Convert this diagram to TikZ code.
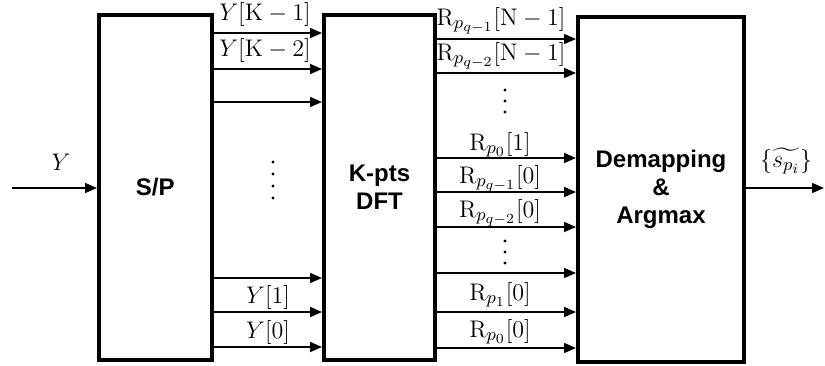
\documentclass[tikz,border=0pt]{standalone}
\usepackage{amsmath,amssymb}
\usepackage{fontspec}
\setsansfont{Liberation Sans}
\usepackage{tikz}
\usetikzlibrary{arrows.meta,calc}
\DeclareMathSizes{12}{12}{9}{7}
\DeclareMathSizes{13}{13}{9.5}{7.5}
\tikzset{
  every picture/.style={line width=0.8pt},
  sblock/.style={draw, line width=2pt, align=center,
                 font=\fontsize{12}{14}\selectfont\sffamily\bfseries},
  sarrow/.style={-{Triangle[length=6pt,width=5pt]}},
  slabel/.style={anchor=base, inner sep=0pt, font=\fontsize{12}{14}\selectfont},
  sdot/.style={circle, fill=black, inner sep=0pt, minimum size=1.7pt},
}
\newcommand{\Rp}[2]{$\mathrm{R}_{p_{#1}}[#2]$}

\begin{document}
\begin{tikzpicture}[x=0.5pt,y=-0.5pt]
\useasboundingbox (0,0) rectangle (825,365);
% blocks
\node[sblock, minimum width=56.25pt, minimum height=172.5pt] (sp) at (155.25,187.5) {S/P};
\node[sblock, minimum width=55.5pt, minimum height=172.5pt] (dft) at (379.5,187.5) {K-pts\\DFT};
\node[sblock, minimum width=83pt, minimum height=172.5pt] (dem) at (661,189) {Demapping\\\&\\Argmax};
% input / output
\coordinate (in) at (12,188);
\coordinate (out) at (824,188);
\draw[sarrow] (in) -- (sp.west |- in);
\node[slabel] (ylab) at (61,170) {$Y$};
\draw[sarrow] (dem.east |- out) -- (out);
\node[slabel, font=\fontsize{13}{15}\selectfont] (slab) at (786,167) {$\{\widetilde{s_{p_i}}\}$};
% S/P -> DFT
\foreach \y in {33,69,102,278,312,347}
  \draw[sarrow] (sp.east |- 0,\y) -- (dft.west |- 0,\y);
\node[slabel] (yk1) at (265,20) {$Y[\mathrm{K}-1]$};
\node[slabel] (yk2) at (265,56) {$Y[\mathrm{K}-2]$};
\node[slabel] (y1) at (268,303) {$Y[1]$};
\node[slabel] (y0) at (268,338) {$Y[0]$};
\foreach \y [count=\i] in {162,174,186,198}
  \node[sdot] (spdot\i) at (273,\y) {};
% DFT -> demapping
\foreach \y in {39,73,158,192,227,273,312,348}
  \draw[sarrow] (dft.east |- 0,\y) -- (dem.west |- 0,\y);
\node[slabel] (ra) at (501,25) {\Rp{q-1}{\mathrm{N}-1}};
\node[slabel] (rb) at (501,60) {\Rp{q-2}{\mathrm{N}-1}};
\node[slabel] (rc) at (500,150) {\Rp{0}{1}};
\node[slabel] (rd) at (500,183) {\Rp{q-1}{0}};
\node[slabel] (re) at (500,217) {\Rp{q-2}{0}};
\node[slabel] (rf) at (500,300) {\Rp{1}{0}};
\node[slabel] (rg) at (500,337) {\Rp{0}{0}};
\foreach \y [count=\i] in {90,101,112}
  \node[sdot] (dfta\i) at (505,\y) {};
\foreach \y [count=\i] in {241,252,263}
  \node[sdot] (dftb\i) at (505,\y) {};
\end{tikzpicture}
\end{document}
